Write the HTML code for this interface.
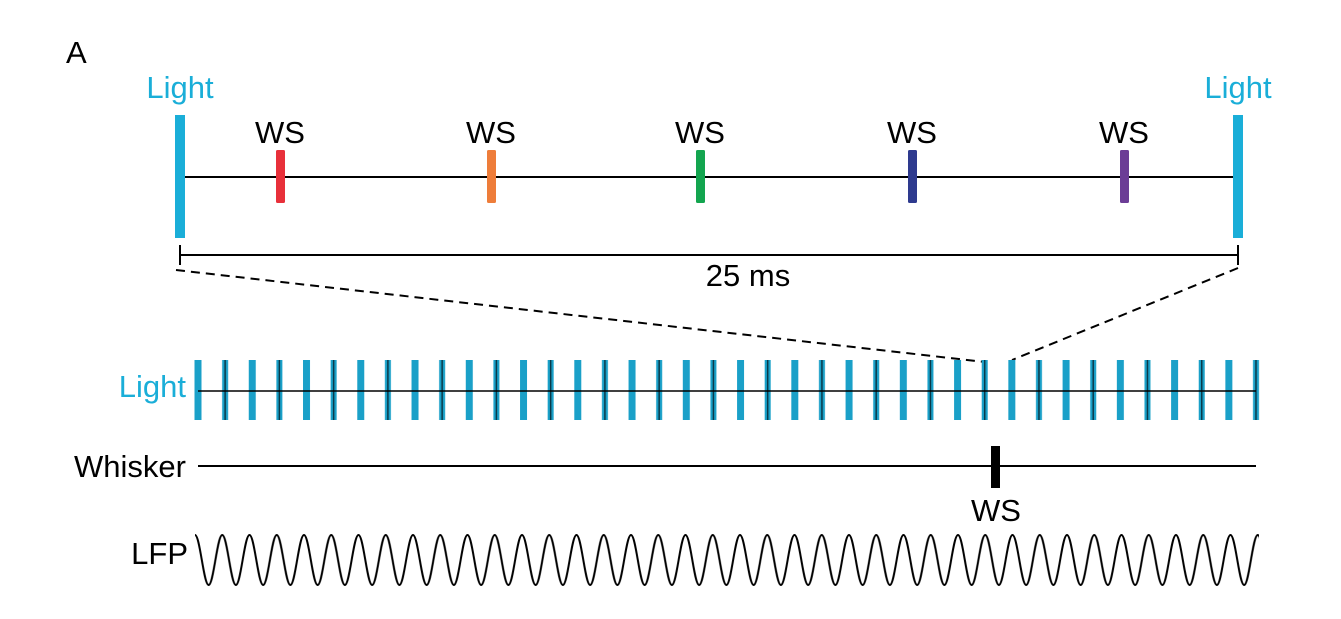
<!DOCTYPE html>
<html><head><style>body{margin:0;background:#fff}svg{display:block}</style></head><body>
<svg width="1341" height="619" viewBox="0 0 1341 619" font-family="Liberation Sans, sans-serif" font-size="31">
<defs>
<pattern id="pul" patternUnits="userSpaceOnUse" x="194.5" y="360" width="54.256" height="60">
<rect x="0" y="0" width="7" height="60" fill="#1aa0c8"/>
<rect x="27.628" y="0" width="6" height="60" fill="#1aa0c8"/>
<line x1="30.628" y1="0" x2="30.628" y2="60" stroke="#0a3a4a" stroke-width="1.5"/>
</pattern>
<pattern id="wav" patternUnits="userSpaceOnUse" x="195" y="530" width="27.25" height="60">
<path d="M0 5 C5 5 8.6 55 13.625 55 C18.6 55 22.2 5 27.25 5" fill="none" stroke="#000" stroke-width="2"/>
</pattern>
</defs>
<text x="66" y="63">A</text>
<text x="180" y="98" fill="#1aaed8" text-anchor="middle">Light</text>
<text x="1238" y="98" fill="#1aaed8" text-anchor="middle">Light</text>
<line x1="180" y1="177" x2="1238" y2="177" stroke="#000" stroke-width="2"/>
<rect x="175" y="115" width="10" height="123" fill="#1aaed8"/>
<rect x="1233" y="115" width="10" height="123" fill="#1aaed8"/>
<g text-anchor="middle">
<text x="280" y="143">WS</text><text x="491" y="143">WS</text><text x="700" y="143">WS</text><text x="912" y="143">WS</text><text x="1124" y="143">WS</text>
</g>
<rect x="276" y="150" width="9" height="53" rx="1.5" fill="#e8303a"/>
<rect x="487" y="150" width="9" height="53" rx="1.5" fill="#ee7d3a"/>
<rect x="696" y="150" width="9" height="53" rx="1.5" fill="#13a54f"/>
<rect x="908" y="150" width="9" height="53" rx="1.5" fill="#2e3a8e"/>
<rect x="1120" y="150" width="9" height="53" rx="1.5" fill="#6c3d96"/>
<g stroke="#000" stroke-width="2">
<line x1="180" y1="255" x2="1238" y2="255"/><line x1="180" y1="245" x2="180" y2="265"/><line x1="1238" y1="245" x2="1238" y2="265"/>
</g>
<text x="748" y="286" text-anchor="middle">25 ms</text>
<g stroke="#000" stroke-width="2" stroke-dasharray="9,6" fill="none">
<line x1="176" y1="270" x2="985" y2="362"/><line x1="1238" y1="268" x2="1012" y2="360"/>
</g>
<text x="186" y="397" fill="#1aaed8" text-anchor="end">Light</text>
<rect x="194.5" y="360" width="1065" height="60" fill="url(#pul)"/>
<line x1="198" y1="391" x2="1256" y2="391" stroke="#000" stroke-width="1.5"/>
<text x="186" y="477" text-anchor="end">Whisker</text>
<line x1="198" y1="466" x2="1256" y2="466" stroke="#000" stroke-width="2"/>
<rect x="991" y="446" width="9" height="42" fill="#000"/>
<text x="996" y="521" text-anchor="middle">WS</text>
<text x="188" y="564" text-anchor="end">LFP</text>
<rect x="195" y="530" width="1064" height="60" fill="url(#wav)"/>
</svg>
</body></html>
